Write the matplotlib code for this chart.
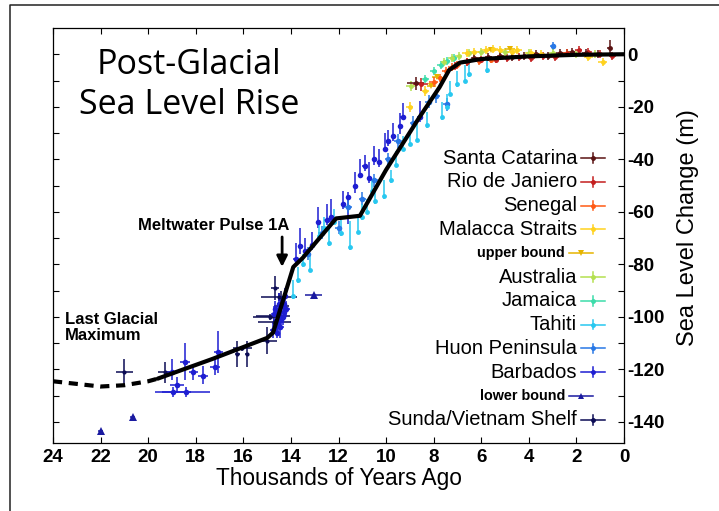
import numpy as np
import matplotlib.pyplot as plt
from matplotlib.lines import Line2D

plt.rcParams['font.family'] = ['Liberation Sans', 'DejaVu Sans']
plt.rcParams['axes.unicode_minus'] = False

# black reconstruction curve (thousands of years ago, metres)
curve_kyr = [19.6, 17.3, 15.0, 14.75, 13.9, 13.5, 12.1, 11.1, 10.0, 8.6, 7.75, 7.35, 6.9, 6.0, 4.0, 2.0, 0.0]
curve_m = [-123.5, -116, -108, -106, -81, -77.5, -62.5, -61.5, -44, -24, -12.5, -6, -3.2, -1.8, -0.8, -0.2, 0]
lgm_kyr = [24, 22, 21, 20, 19.6]
lgm_m = [-124.5, -126.5, -126, -124.5, -123.5]

# Santa Catarina
sc_kyr = [8.75, 6.3, 5.7, 5.2, 4.7, 4.2, 3.7, 3.2, 2.7, 2.2, 1.6, 1.1, 0.6]
sc_m = [-11, -1.5, -1.0, -0.5, -1.0, -0.5, 0.0, -0.5, 0.5, 1.0, 0.5, 0.0, 2.5]
sc_xe = [0.35, 0.15, 0.15, 0.15, 0.15, 0.15, 0.15, 0.15, 0.15, 0.15, 0.15, 0.15, 0.1]
sc_ye = [2.5, 1.5, 1.5, 1.5, 1.5, 1.5, 1.5, 1.5, 1.5, 1.5, 1.5, 1.5, 3.0]

# Rio de Janiero
rj_kyr = [8.55, 7.1, 6.6, 6.0, 5.4, 4.9, 4.4, 3.9, 3.4, 2.9, 2.4, 1.9, 1.5, 1.0, 0.5]
rj_m = [-11.5, -4.5, -3.0, -2.0, -2.0, -1.5, -1.0, -1.5, -0.5, -1.0, 0.5, 1.5, 1.0, 0.0, -0.5]
rj_xe = [0.3, 0.15, 0.15, 0.15, 0.15, 0.15, 0.15, 0.15, 0.15, 0.15, 0.15, 0.15, 0.15, 0.15, 0.15]
rj_ye = [2.5, 1.5, 1.5, 1.5, 1.5, 1.5, 1.5, 1.5, 1.5, 1.5, 1.5, 1.5, 1.5, 1.5, 1.5]

# Senegal
sn_kyr = [8.0, 7.75, 7.5, 7.25, 7.0, 6.6, 6.1, 5.6]
sn_m = [-10.5, -9.0, -6.5, -5.0, -4.0, -3.0, -2.5, -2.0]
sn_xe = [0.2, 0.15, 0.15, 0.15, 0.15, 0.15, 0.15, 0.15]
sn_ye = [2.0, 1.5, 1.5, 1.5, 1.5, 1.5, 1.5, 1.5]

# Malacca Straits
ms_kyr = [9.0, 8.35, 6.6, 6.3, 5.8, 5.5, 5.2, 4.7, 4.5, 3.9, 3.5, 2.4, 1.5, 0.9]
ms_m = [-20, -14, 0.5, 1.0, 1.5, 2.0, 1.5, 1.0, 1.5, 0.5, 0.0, 0.5, -1.0, -3.0]
ms_xe = [0.15, 0.15, 0.2, 0.2, 0.2, 0.2, 0.2, 0.2, 0.2, 0.2, 0.2, 0.2, 0.2, 0.2]
ms_ye = [2.0, 2.0, 1.5, 1.5, 1.5, 1.5, 1.5, 1.5, 1.5, 1.5, 1.5, 1.5, 1.5, 1.5]

# upper bound
ub_kyr = [8.1, 7.85, 5.6, 4.8]
ub_m = [-12, -8.5, 1.5, 2.0]
ub_xe = [0.2, 0.2, 0.2, 0.2]

# Australia
au_kyr = [8.95, 7.55, 7.25, 6.95, 6.5, 6.0, 5.0, 4.0, 3.0, 2.0, 1.2]
au_m = [-12, -3.0, -1.5, -0.5, 0.5, 1.0, 1.0, 0.5, 0.5, 0.0, 0.0]
au_xe = [0.2, 0.15, 0.15, 0.15, 0.15, 0.15, 0.15, 0.15, 0.15, 0.15, 0.15]
au_ye = [2.0, 1.5, 1.5, 1.5, 1.5, 1.5, 1.5, 1.5, 1.5, 1.5, 1.5]

# Jamaica
jm_kyr = [8.35, 8.0, 7.7, 7.45, 7.15]
jm_m = [-9.5, -6.5, -4.0, -2.5, -1.5]
jm_xe = [0.15, 0.15, 0.15, 0.15, 0.15]
jm_ye = [1.5, 1.5, 1.5, 1.5, 1.5]

# Tahiti
th_kyr = [13.9, 13.7, 13.5, 13.2, 12.8, 12.4, 11.9, 11.5, 11.2, 10.8, 10.45, 10.1,
          9.8, 9.3, 8.7, 8.3, 7.65, 7.45, 7.3, 7.0, 6.7, 6.5, 5.75,
          12.6, 12.2, 11.0, 10.6, 9.6, 9.0]
th_m = [-92, -86, -80, -82, -69, -72, -68, -73.5, -67.5, -60, -56, -54,
        -48, -36, -32.5, -27, -24, -20, -15, -11.5, -10, -7.5, -6,
        -66, -64, -62, -52, -42, -34]
th_lo = [1, 1, 1, 1, 1, 1, 1, 1, 1, 1, 1, 1, 1, 1, 1, 1, 1, 1, 1, 1, 1, 1, 1,
         1, 1, 1, 1, 1, 1]
th_hi = [6, 5, 4, 6, 5, 6, 5, 10, 5, 5, 5, 6, 4, 5, 6, 5, 6, 5, 5, 5, 6, 5, 4,
         4, 5, 5, 4, 5, 4]

# Huon Peninsula
hp_kyr = [13.3, 12.7, 12.0, 11.6, 11.0, 10.5, 9.9, 9.5, 8.85, 8.2, 7.9, 7.45, 3.0]
hp_m = [-76, -68, -66, -58, -55, -48, -40, -33, -26, -18, -16, -19, 3]
hp_xe = [0.15, 0.15, 0.15, 0.15, 0.15, 0.15, 0.15, 0.15, 0.15, 0.15, 0.15, 0.15, 0.1]
hp_ye = [2.5, 2.5, 2.5, 2.5, 2.5, 2.5, 2.5, 2.5, 2.5, 2.5, 2.5, 2.5, 1.5]

# Barbados
bb_kyr = [19.0, 18.8, 18.45, 18.1, 17.7, 17.2, 17.05, 18.96, 18.4,
          14.75, 14.6, 14.5, 14.4, 14.3, 14.55, 14.2, 14.45, 14.7, 14.35,
          14.65, 14.5, 14.25, 14.4, 14.6, 14.3,
          13.6, 13.1, 12.85, 12.3, 11.6, 11.3, 11.1, 10.9, 10.5, 10.05, 9.9, 9.7, 9.4, 9.3, 8.58,
          13.8, 13.4, 12.5, 11.8, 10.7, 10.3]
bb_m = [-121, -126, -117, -121, -122.5, -119, -113.5, -128.5, -128.5,
        -105, -101, -98, -96, -95, -103, -97, -104, -99, -100,
        -97, -95, -92, -101, -106, -98,
        -73, -72.5, -64, -62, -54.5, -50, -46, -42.5, -40, -36, -33, -31, -27.5, -23.7, -23.7,
        -78, -75, -63, -57, -47, -41]
bb_xe = [0.2, 0.3, 0.2, 0.2, 0.2, 0.2, 0.2, 0.75, 1.0,
         0.15, 0.15, 0.15, 0.15, 0.15, 0.15, 0.15, 0.15, 0.15, 0.15,
         0.1, 0.1, 0.1, 0.1, 0.1, 0.1,
         0.1, 0.1, 0.1, 0.1, 0.1, 0.1, 0.1, 0.1, 0.1, 0.1, 0.1, 0.1, 0.1, 0.1, 0.1,
         0.1, 0.1, 0.1, 0.1, 0.1, 0.1]
bb_lo = [3, 3, 7, 3, 3, 3, 8, 2, 2,
         3, 4, 3, 3, 4, 3, 3, 4, 3, 3,
         2, 3, 2, 3, 2, 3,
         3, 2, 2, 2, 10, 3, 1, 2, 2, 1, 2, 2, 3, 1, 2,
         2, 2, 2, 2, 2, 2]
bb_hi = [5, 3, 7, 3, 4, 4, 8, 2, 2,
         3, 5, 3, 4, 4, 3, 3, 4, 3, 3,
         3, 4, 3, 4, 3, 4,
         7, 5, 6, 7, 2, 5, 6, 4, 5, 6, 4, 5, 5, 5, 6,
         6, 5, 6, 5, 6, 5]

# Sunda/Vietnam Shelf
sv_kyr = [21.0, 19.3, 16.25, 15.85, 16.05, 15.0, 14.67, 14.5, 14.75, 14.9, 14.7, 14.4]
sv_m = [-121, -121, -114, -114, -112, -109, -89, -92.5, -99.5, -100, -102, -96]
sv_xe = [0.35, 0.3, 0.1, 0.1, 0.4, 0.4, 0.15, 0.75, 0.7, 0.7, 0.7, 0.3]
sv_ye = [5, 4, 5, 5, 1, 5, 4.5, 1.5, 1, 1, 1, 6]

# lower bound
lb_kyr = [22.0, 20.65, 13.05]
lb_m = [-143.5, -138.2, -91.5]
lb_xe = [0.1, 0.1, 0.35]

legend_labels = ['Santa Catarina', 'Rio de Janiero', 'Senegal', 'Malacca Straits', 'upper bound',
                 'Australia', 'Jamaica', 'Tahiti', 'Huon Peninsula', 'Barbados', 'lower bound',
                 'Sunda/Vietnam Shelf']
legend_colors = ['#5a1212', '#c41e1e', '#ff5a14', '#ffd21e', '#e6b400',
                 '#b4e050', '#3cdcaa', '#28c8f0', '#2878e6', '#1e1ed2', '#1a1aa0', '#0c0c55']
c = dict(zip(legend_labels, legend_colors))

fig = plt.figure(figsize=(7.19, 5.11), dpi=100)
ax = fig.add_axes([53 / 719, 1 - 443 / 511, 571 / 719, 415 / 511])

eb = dict(capsize=0, elinewidth=1.1, mew=0, zorder=3)
ax.errorbar(sv_kyr, sv_m, xerr=sv_xe, yerr=sv_ye, fmt='o', ms=3, color=c['Sunda/Vietnam Shelf'], **eb)
ax.errorbar(bb_kyr, bb_m, xerr=bb_xe, yerr=[bb_lo, bb_hi], fmt='o', ms=4, color=c['Barbados'], **eb)
ax.errorbar(lb_kyr, lb_m, xerr=lb_xe, fmt='^', ms=5.5, color=c['lower bound'], **eb)
ax.errorbar(hp_kyr, hp_m, xerr=hp_xe, yerr=hp_ye, fmt='o', ms=4, color=c['Huon Peninsula'], **eb)
ax.errorbar(th_kyr, th_m, yerr=[th_lo, th_hi], fmt='o', ms=3.5, color=c['Tahiti'], **eb)
ax.errorbar(jm_kyr, jm_m, xerr=jm_xe, yerr=jm_ye, fmt='o', ms=3.5, color=c['Jamaica'], **eb)
ax.errorbar(au_kyr, au_m, xerr=au_xe, yerr=au_ye, fmt='o', ms=3.5, color=c['Australia'], **eb)
ax.errorbar(ub_kyr, ub_m, xerr=ub_xe, fmt='v', ms=4.5, color=c['upper bound'], **eb)
ax.errorbar(ms_kyr, ms_m, xerr=ms_xe, yerr=ms_ye, fmt='o', ms=3.5, color=c['Malacca Straits'], **eb)
ax.errorbar(sn_kyr, sn_m, xerr=sn_xe, yerr=sn_ye, fmt='o', ms=3.5, color=c['Senegal'], **eb)
ax.errorbar(rj_kyr, rj_m, xerr=rj_xe, yerr=rj_ye, fmt='o', ms=3.5, color=c['Rio de Janiero'], **eb)
ax.errorbar(sc_kyr, sc_m, xerr=sc_xe, yerr=sc_ye, fmt='o', ms=3.5, color=c['Santa Catarina'], **eb)

ax.plot(curve_kyr, curve_m, color='black', lw=3, solid_capstyle='round', zorder=5)
ax.plot(lgm_kyr, lgm_m, color='black', lw=3, ls=(0, (2.2, 1.6)), zorder=5)

ax.set_xlim(24, 0)
ax.set_ylim(-148, 10)
ax.set_xticks(np.arange(24, -1, -2))
ax.set_yticks(np.arange(-140, 1, 20))
ax.set_yticks(np.arange(-130, 10, 20), minor=True)
ax.yaxis.tick_right()
ax.tick_params(axis='both', which='both', direction='in', top=True, bottom=True,
               left=True, right=True, length=4, width=0.8)
ax.tick_params(axis='y', which='major', pad=2, labelsize=13.5)
ax.tick_params(axis='x', which='major', pad=4, labelsize=13.5)
for lab in ax.get_xticklabels() + ax.get_yticklabels():
    lab.set_fontweight('bold')
for s in ax.spines.values():
    s.set_linewidth(0.9)

ax.set_xlabel('Thousands of Years Ago', fontsize=16.3, labelpad=1)
fig.text(688 / 719, 1 - 228 / 511, 'Sea Level Change (m)', rotation=90, ha='center', va='center',
         fontsize=17)

# title
fig.text(189 / 719, 1 - 74 / 511, 'Post-Glacial', ha='center', va='baseline', fontsize=24.5, family='Open Sans')
fig.text(189 / 719, 1 - 114 / 511, 'Sea Level Rise', ha='center', va='baseline', fontsize=24.5, family='Open Sans')

ax.annotate('', xy=(14.37, -82), xytext=(14.37, -68.5),
            arrowprops=dict(arrowstyle='-|>', color='black', lw=2, mutation_scale=16), zorder=6)
ax.text(17.26, -65.2, 'Meltwater Pulse 1A', ha='center', va='center', fontsize=12, fontweight='bold')
ax.text(23.5, -104, 'Last Glacial\nMaximum', ha='left', va='center', fontsize=12,
        fontweight='bold', linespacing=1.15)

# legend, drawn by hand so the labels sit right-aligned against the keys
y0 = 1 - (158 - 28) / 415
step = 23.8 / 415
for i, (lab, col) in enumerate(zip(legend_labels, legend_colors)):
    y = y0 - i * step
    small = lab.endswith('bound')
    xc = 0.9247 if small else 0.9457
    xt = 0.8967 if small else 0.9177
    ax.text(xt, y, lab, transform=ax.transAxes, ha='right', va='center',
            fontsize=10.4 if small else 14.5, fontweight='bold' if small else 'normal')
    ax.plot([xc - 0.021, xc + 0.021], [y, y], transform=ax.transAxes, color=col, lw=1.1, clip_on=False)
    if small:
        ax.plot([xc], [y], transform=ax.transAxes, color=col, marker='^' if lab.startswith('lower') else 'v',
                ms=5, mew=0, clip_on=False)
    else:
        ax.plot([xc, xc], [y - 0.0115, y + 0.0115], transform=ax.transAxes, color=col, lw=1.1, clip_on=False)
        ax.plot([xc], [y], transform=ax.transAxes, color=col, marker='o', ms=3.5, mew=0, clip_on=False)

# outer frame of the picture (top and left edges visible)
fig.add_artist(Line2D([10 / 719, 10 / 719, 1], [0, 1 - 5 / 511, 1 - 5 / 511], color='#222222', lw=1.1,
                      transform=fig.transFigure))

fig.savefig('out.png', dpi=100)
